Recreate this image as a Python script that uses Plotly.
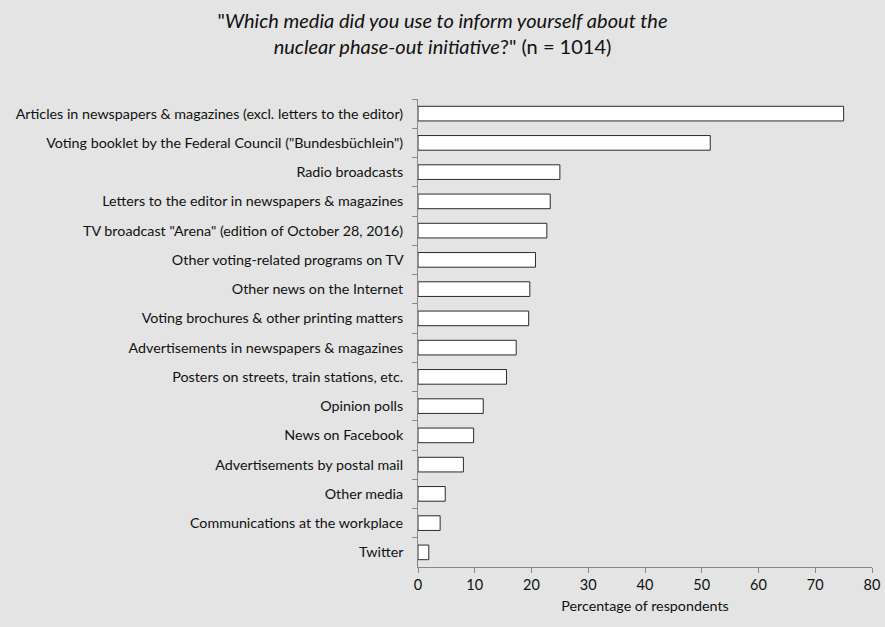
import plotly.graph_objects as go

categories = [
    "Articles in newspapers & magazines (excl. letters to the editor)",
    "Voting booklet by the Federal Council (\"Bundesbüchlein\")",
    "Radio broadcasts",
    "Letters to the editor in newspapers & magazines",
    "TV broadcast \"Arena\" (edition of October 28, 2016)",
    "Other voting-related programs on TV",
    "Other news on the Internet",
    "Voting brochures & other printing matters",
    "Advertisements in newspapers & magazines",
    "Posters on streets, train stations, etc.",
    "Opinion polls",
    "News on Facebook",
    "Advertisements by postal mail",
    "Other media",
    "Communications at the workplace",
    "Twitter",
]
values = [75.0, 51.5, 25.0, 23.3, 22.7, 20.7, 19.7, 19.5, 17.3, 15.6, 11.5, 9.8, 8.0, 4.8, 3.9, 1.9]
x_ticks = [0, 10, 20, 30, 40, 50, 60, 70, 80]

font_family = "Lato, 'Open Sans', sans-serif"
bg = "#e3e4e3"

fig = go.Figure(go.Bar(
    x=values,
    y=categories,
    orientation="h",
    marker=dict(color="white", line=dict(color="#2b2b2b", width=1)),
    width=0.5,
    hoverinfo="x+y",
))

fig.update_layout(
    width=885, height=627,
    paper_bgcolor=bg, plot_bgcolor=bg,
    margin=dict(l=418, r=13, t=99, b=60),
    font=dict(family=font_family, size=14.3, color="#111111"),
    title=dict(
        text="\"<i>Which media did you use to inform yourself about the</i><br><i>nuclear phase-out initiative</i>?\" (n = 1014)",
        x=0.5, xanchor="center", y=0.955, yanchor="top",
        font=dict(family=font_family, size=20, color="#111111"),
    ),
    showlegend=False,
    bargap=0.5,
)
fig.update_xaxes(
    range=[0, 80], tickvals=x_ticks, ticks="outside", ticklen=5, tickcolor="#888888",
    showline=True, linecolor="#888888", linewidth=1, showgrid=False, zeroline=False,
    title=dict(text="Percentage of respondents", standoff=8, font=dict(size=14.3)),
    tickfont=dict(size=14.5), automargin=False,
)
fig.update_yaxes(
    autorange="reversed", categoryorder="array", categoryarray=categories,
    ticks="outside", ticklen=5, tickcolor="#888888", tickson="boundaries",
    showline=True, linecolor="#888888", linewidth=1, showgrid=False,
    tickfont=dict(size=14.3), ticksuffix="   ", automargin=False,
)

fig.write_html("out.html", config={"displayModeBar": False},
               post_script="document.body.style.margin='0';")
